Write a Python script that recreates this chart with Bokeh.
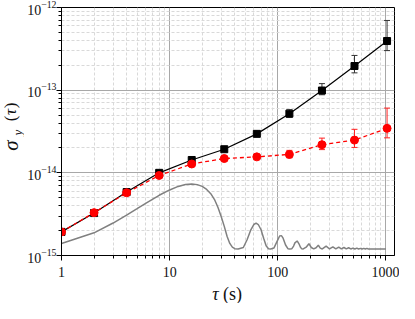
import math
from bokeh.plotting import figure
from bokeh.layouts import row, column
from bokeh.models import (FixedTicker, LogTickFormatter, PrintfTickFormatter, Whisker,
                          TeeHead, ColumnDataSource, Label, Range1d)
from bokeh.core.properties import value
from bokeh.embed import file_html
from bokeh.resources import INLINE

# ---------------- data ----------------
tau = [1, 2, 4, 8, 16, 32, 64, 128, 256, 512, 1024]

# black series (x 1e-15)
black = [1.93, 3.26, 5.85, 10.0, 14.3, 19.3, 29.6, 52.0, 99.0, 196.0, 393.0]
black_lo = [1.90, 3.20, 5.78, 9.85, 14.0, 18.9, 28.6, 47.0, 88.0, 162.0, 301.0]
black_hi = [1.96, 3.32, 5.92, 10.15, 14.6, 19.7, 30.6, 58.0, 120.0, 263.0, 697.0]

# red series (x 1e-15)
red = [1.93, 3.30, 5.74, 9.3, 12.8, 14.9, 15.6, 16.7, 21.9, 24.9, 34.5]
red_lo = [1.90, 3.25, 5.65, 9.15, 12.5, 14.5, 15.1, 15.2, 19.1, 20.3, 26.5]
red_hi = [1.96, 3.35, 5.83, 9.45, 13.1, 15.3, 16.1, 18.7, 26.3, 33.6, 60.7]

# gray curve (x 1e-15)
tau_g = [1, 2, 3, 4, 5, 6, 8, 10, 12, 14, 16, 18, 20, 22, 24, 26, 28, 30, 32, 34, 36, 38, 40, 43,
         48, 52, 56, 60, 63, 66, 70, 74, 78, 82, 86,
         92, 98, 104, 108, 112, 118, 124, 129,
         135, 140, 144, 151, 158, 162, 166, 172,
         183, 194, 204, 215,
         226, 237, 247, 258,
         280, 301, 323, 344, 366, 387, 409, 430, 452, 473, 495, 516,
         538, 559, 581, 602, 624, 645, 667, 688, 1000]
sig_g = [1.40, 1.88, 2.47, 3.08, 3.69, 4.28, 5.35, 6.21, 6.85, 7.22, 7.33, 7.20, 6.85, 6.30, 5.60, 4.75, 3.80, 2.95, 2.25, 1.70, 1.40, 1.26, 1.21, 1.20,
         1.25, 1.55, 2.01, 2.37, 2.46, 2.37, 2.05, 1.62, 1.31, 1.21, 1.20,
         1.23, 1.46, 1.72, 1.74, 1.62, 1.34, 1.21, 1.20,
         1.21, 1.30, 1.42, 1.50, 1.36, 1.26, 1.21, 1.20,
         1.26, 1.39, 1.25, 1.20,
         1.24, 1.33, 1.23, 1.20,
         1.30, 1.20, 1.27, 1.20, 1.26, 1.20, 1.25, 1.20, 1.24, 1.20, 1.23, 1.20,
         1.23, 1.20, 1.22, 1.20, 1.22, 1.20, 1.22, 1.20, 1.20]

x_ticks = [1, 10, 100, 1000]
y_ticks = [1e-15, 1e-14, 1e-13, 1e-12]

SCALE = 1e-15
FONT = "Liberation Serif"
TXT = "#111111"

# ---------------- main figure ----------------
p = figure(width=375, height=282, x_axis_type="log", y_axis_type="log",
           x_range=Range1d(1, 1200), y_range=Range1d(1e-15, 1e-12),
           output_backend="svg", toolbar_location=None,
           min_border_left=34, min_border_right=5, min_border_top=7, min_border_bottom=27)
p.background_fill_color = "white"
p.border_fill_color = "white"
p.outline_line_color = "black"
p.outline_line_width = 1

x_minor = [m * 10 ** e for e in range(0, 4) for m in range(2, 10) if m * 10 ** e < 1200]
y_minor = [m * 10.0 ** e for e in (-15, -14, -13) for m in range(2, 10)]
xt = FixedTicker(ticks=x_ticks, minor_ticks=x_minor)
yt = FixedTicker(ticks=y_ticks, minor_ticks=y_minor)
p.xaxis.ticker = xt
p.yaxis.ticker = yt
p.xgrid.ticker = xt
p.ygrid.ticker = yt
p.xaxis.formatter = PrintfTickFormatter(format="%d")
p.yaxis.formatter = LogTickFormatter()

for ax in (p.xaxis, p.yaxis):
    ax.axis_line_color = "black"
    ax.axis_line_width = 1
    ax.major_tick_line_color = "black"
    ax.minor_tick_line_color = "black"
    ax.major_label_text_font = FONT
    ax.major_label_text_font_size = "14px"
    ax.major_label_text_color = TXT
    ax.major_tick_in = 0
    ax.major_tick_out = 5
    ax.minor_tick_in = 0
    ax.minor_tick_out = 3
p.xaxis.major_label_standoff = 6
p.yaxis.major_label_standoff = 0

p.grid.grid_line_color = "#a8a8a8"
p.grid.grid_line_width = 1
p.grid.minor_grid_line_color = "#d9d9d9"
p.grid.minor_grid_line_dash = "3 2"

g_src = ColumnDataSource(dict(x=tau_g, y=[v * SCALE for v in sig_g]))
p.line("x", "y", source=g_src, line_color="#808080", line_width=1.5)

b_src = ColumnDataSource(dict(x=tau, y=[v * SCALE for v in black],
                              lo=[v * SCALE for v in black_lo], hi=[v * SCALE for v in black_hi]))
r_src = ColumnDataSource(dict(x=tau, y=[v * SCALE for v in red],
                              lo=[v * SCALE for v in red_lo], hi=[v * SCALE for v in red_hi]))

p.line("x", "y", source=b_src, line_color="black", line_width=1.2)
p.add_layout(Whisker(base="x", upper="hi", lower="lo", source=b_src, dimension="height",
                     line_color="#333333", line_width=1,
                     upper_head=TeeHead(size=6, line_color="#333333", line_width=1),
                     lower_head=TeeHead(size=6, line_color="#333333", line_width=1)))
p.scatter("x", "y", source=b_src, marker="square", size=7, fill_color="black", line_color="black")

p.line("x", "y", source=r_src, line_color="#ff0000", line_width=1.3, line_dash="4 3")
p.add_layout(Whisker(base="x", upper="hi", lower="lo", source=r_src, dimension="height",
                     line_color="#ff2020", line_width=1,
                     upper_head=TeeHead(size=6, line_color="#ff2020", line_width=1),
                     lower_head=TeeHead(size=6, line_color="#ff2020", line_width=1)))
p.scatter("x", "y", source=r_src, marker="circle", size=8, fill_color="#ff0000", line_color="#ff0000")


# ---------------- title strips (y title on the left, x title below) ----------------
def strip(w, h, top=0, bottom=0):
    f = figure(width=w, height=h, x_range=Range1d(0, w), y_range=Range1d(0, h - top - bottom),
               output_backend="svg", toolbar_location=None, title=None,
               min_border_left=0, min_border_right=0,
               min_border_top=top, min_border_bottom=bottom,
               x_axis_location=None, y_axis_location=None)
    f.grid.visible = False
    f.outline_line_color = None
    f.background_fill_color = "white"
    f.border_fill_color = "white"
    return f


# y title: strip whose frame has the same vertical extent as the main frame
ylab = strip(24, 282, top=7, bottom=27)
R = math.pi / 2
for txt, xx, yy, size, style in [("σ", 10, 110, "21px", "italic"),
                                 ("y", 17, 123, "13px", "italic"),
                                 ("(", 10, 137, "17px", "normal"),
                                 ("τ", 10, 143.5, "17px", "italic"),
                                 (")", 10, 150, "17px", "normal")]:
    ylab.add_layout(Label(x=xx, y=yy, x_units="screen", y_units="screen", text=txt, angle=R,
                          text_font=FONT, text_font_size=size, text_font_style=style,
                          text_color=TXT, text_align="center", text_baseline="middle"))

# x title
xlab = strip(399, 21)
for txt, xx, style in [("τ", 215, "italic"), ("(s)", 232, "normal")]:
    xlab.add_layout(Label(x=xx, y=10, x_units="screen", y_units="screen", text=txt,
                          text_font=FONT, text_font_size="18px", text_font_style=style,
                          text_color=TXT, text_align="center", text_baseline="middle"))

layout = column(row(ylab, p), xlab)
open("out.html", "w").write(file_html(layout, INLINE))
